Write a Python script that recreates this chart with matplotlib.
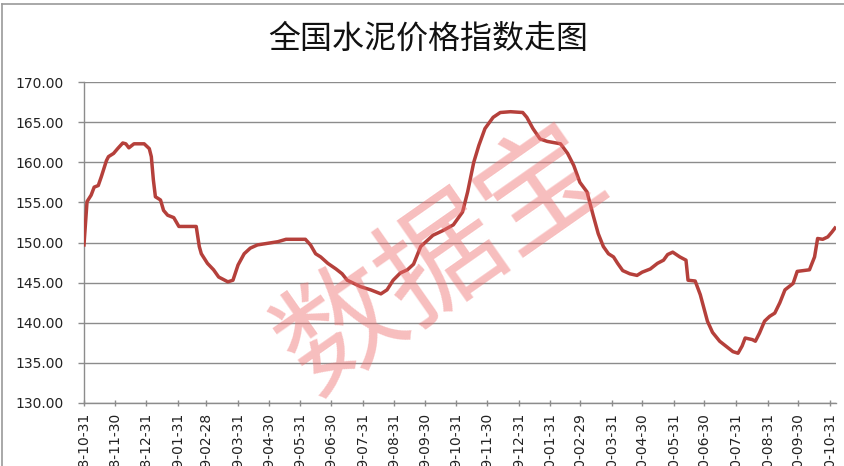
import pandas as pd
import matplotlib
matplotlib.use("Agg")
import matplotlib.pyplot as plt
from matplotlib.lines import Line2D

plt.rcParams['font.family'] = ['DejaVu Sans', 'Noto Sans CJK SC']

title = "全国水泥价格指数走图"
watermark = "数据宝"

# index readings (date, value)
dates = [
    "2018-10-31", "2018-11-03", "2018-11-07", "2018-11-10", "2018-11-14", "2018-11-17",
    "2018-11-22", "2018-11-24", "2018-11-29", "2018-12-03", "2018-12-08", "2018-12-11",
    "2018-12-14", "2018-12-19", "2018-12-29", "2019-01-03", "2019-01-05", "2019-01-07",
    "2019-01-09", "2019-01-14", "2019-01-17", "2019-01-21", "2019-01-27", "2019-02-01",
    "2019-02-18", "2019-02-21", "2019-02-23", "2019-03-01", "2019-03-07", "2019-03-12",
    "2019-03-21", "2019-03-26", "2019-03-31", "2019-04-06", "2019-04-12", "2019-04-19",
    "2019-04-29", "2019-05-09", "2019-05-17", "2019-06-05", "2019-06-10", "2019-06-15",
    "2019-06-20", "2019-06-27", "2019-07-05", "2019-07-11", "2019-07-16", "2019-07-29",
    "2019-08-08", "2019-08-18", "2019-08-24", "2019-08-30", "2019-09-06", "2019-09-13",
    "2019-09-19", "2019-09-26", "2019-10-08", "2019-10-18", "2019-10-28", "2019-11-06",
    "2019-11-11", "2019-11-17", "2019-11-22", "2019-11-28", "2019-12-06", "2019-12-13",
    "2019-12-23", "2020-01-04", "2020-01-08", "2020-01-14", "2020-01-21", "2020-01-28",
    "2020-02-10", "2020-02-17", "2020-02-23", "2020-02-29", "2020-03-07", "2020-03-13",
    "2020-03-18", "2020-03-23", "2020-03-28", "2020-04-02", "2020-04-06", "2020-04-11",
    "2020-04-18", "2020-04-25", "2020-04-30", "2020-05-08", "2020-05-15", "2020-05-21",
    "2020-05-25", "2020-05-30", "2020-06-06", "2020-06-12", "2020-06-14", "2020-06-21",
    "2020-06-26", "2020-07-03", "2020-07-08", "2020-07-15", "2020-07-23", "2020-07-28",
    "2020-08-02", "2020-08-06", "2020-08-09", "2020-08-16", "2020-08-19", "2020-08-23",
    "2020-08-28", "2020-09-02", "2020-09-07", "2020-09-12", "2020-09-17", "2020-09-22",
    "2020-09-25", "2020-09-29", "2020-10-11", "2020-10-16", "2020-10-19", "2020-10-24",
    "2020-10-29", "2020-11-02", "2020-11-05",
]
values = [
    149.7, 155.1, 155.9, 156.9, 157.1, 158.2,
    160.2, 160.7, 161.1, 161.7, 162.4, 162.3,
    161.8, 162.3, 162.3, 161.7, 160.7, 157.8,
    155.7, 155.3, 154.0, 153.4, 153.1, 152.0,
    152.0, 149.5, 148.6, 147.4, 146.6, 145.7,
    145.1, 145.3, 147.2, 148.6, 149.3, 149.7,
    149.9, 150.1, 150.4, 150.4, 149.7, 148.6,
    148.2, 147.4, 146.7, 146.1, 145.3, 144.5,
    144.1, 143.6, 144.1, 145.3, 146.2, 146.6,
    147.3, 149.5, 150.9, 151.5, 152.2, 153.8,
    156.3, 160.0, 162.1, 164.2, 165.6, 166.2,
    166.3, 166.2, 165.6, 164.2, 162.9, 162.6,
    162.3, 161.1, 159.6, 157.5, 156.3, 153.4,
    151.1, 149.5, 148.6, 148.2, 147.4, 146.5,
    146.1, 145.9, 146.3, 146.7, 147.4, 147.8,
    148.5, 148.8, 148.2, 147.8, 145.3, 145.2,
    143.5, 140.2, 138.8, 137.7, 136.9, 136.4,
    136.2, 137.1, 138.1, 137.9, 137.7, 138.7,
    140.2, 140.8, 141.2, 142.5, 144.1, 144.6,
    144.9, 146.4, 146.6, 148.2, 150.5, 150.4,
    150.7, 151.3, 151.8,
]

tick_dates = [
    "2018-10-31", "2018-11-30", "2018-12-31", "2019-01-31", "2019-02-28", "2019-03-31",
    "2019-04-30", "2019-05-31", "2019-06-30", "2019-07-31", "2019-08-31", "2019-09-30",
    "2019-10-31", "2019-11-30", "2019-12-31", "2020-01-31", "2020-02-29", "2020-03-31",
    "2020-04-30", "2020-05-31", "2020-06-30", "2020-07-31", "2020-08-31", "2020-09-30",
    "2020-10-31",
]
y_ticks = [130, 135, 140, 145, 150, 155, 160, 165, 170]

fig = plt.figure(figsize=(8.44, 4.66), dpi=100)
ax = fig.add_axes([0.0995, 0.1352, 0.891, 0.6888])

x = pd.to_datetime(dates)
ax.plot(x, values, color='#b5403b', lw=2.5, solid_joinstyle='round', zorder=3)

ax.set_ylim(130, 170)
ax.set_yticks(y_ticks)
ax.set_yticklabels([f"{v:.2f}" for v in y_ticks])
ax.set_xlim(pd.Timestamp("2018-10-31"), pd.Timestamp("2020-11-06"))
ticks = pd.to_datetime(tick_dates)
ax.set_xticks(ticks)
# labels run off the bottom edge, as in the cropped original
ax.set_xticklabels([t.strftime("%Y-%m-%d") for t in ticks], rotation=90, va='top', ha='center')

ax.grid(axis='y', color='#8c8c8c', lw=1.0)
ax.set_axisbelow(True)
for s in ['top', 'right']:
    ax.spines[s].set_visible(False)
for s in ['left', 'bottom']:
    ax.spines[s].set_color('#8c8c8c')
    ax.spines[s].set_linewidth(1.0)
ax.tick_params(axis='y', length=4.5, width=1.0, color='#8c8c8c', pad=10,
               labelsize=10, labelcolor='#222222')
ax.tick_params(axis='x', direction='inout', length=4.5, width=1.0, color='#8c8c8c',
               pad=5, labelsize=10, labelcolor='#222222')

fig.text(0.507, 0.918, title, ha='center', va='center', fontsize=23,
         family=['Noto Sans CJK SC', 'DejaVu Sans'], color='#111111')

# watermark
fig.text(0.525, 0.44, watermark, ha='center', va='center', fontsize=88, rotation=35,
         family=['Noto Sans CJK SC', 'DejaVu Sans'], color='#ee6f6f', alpha=0.45, zorder=10)

# chart border (top and left edges visible in crop)
fig.add_artist(Line2D([0.0025, 0.0025], [0, 0.992], transform=fig.transFigure,
                      color='#9a9a9a', lw=1.2))
fig.add_artist(Line2D([0.0025, 1.0], [0.992, 0.992], transform=fig.transFigure,
                      color='#9a9a9a', lw=1.2))

fig.savefig("out.png", dpi=100)
